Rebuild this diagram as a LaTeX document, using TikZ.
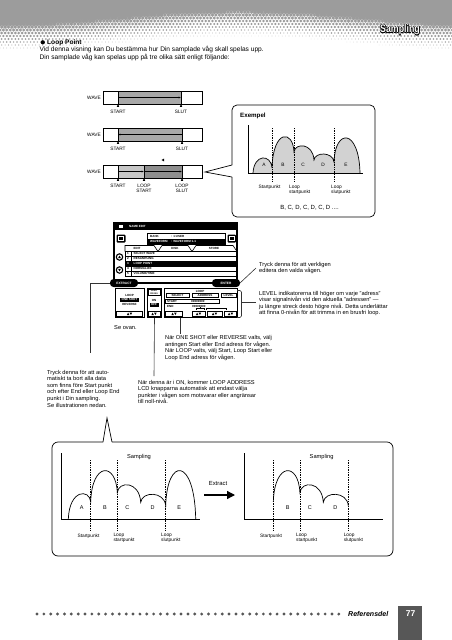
\documentclass[tikz,border=0pt]{standalone}
\usepackage{fontspec}
\setmainfont{Liberation Sans}
\usetikzlibrary{arrows.meta}

\definecolor{hdr}{HTML}{9C9C9C}
\definecolor{foot}{HTML}{575757}
\definecolor{wdark}{HTML}{A8A8A8}
\definecolor{wlight}{HTML}{C6C6C6}
\definecolor{wdeep}{HTML}{8E8E8E}
\definecolor{humpfill}{HTML}{D2D2D2}
\definecolor{conn}{HTML}{333333}

\newcommand\fsz[2]{\fontsize{#1}{#2}\selectfont}
\newcommand\updn[2]{%
  \fill (#1-2.6,#2+1.2) -- (#1-1.4,#2-1.1) -- (#1-0.2,#2+1.2) -- cycle;
  \fill (#1+0.2,#2-1.1) -- (#1+1.4,#2+1.2) -- (#1+2.6,#2-1.1) -- cycle;}
\newcommand\mkup[2]{\fill (#1-1.2,#2+2.8) -- (#1,#2) -- (#1+1.2,#2+2.8) -- cycle;}

\begin{document}
\begin{tikzpicture}[x=1pt,y=-1pt,
  body/.style={anchor=base west,inner sep=0pt,font=\fsz{6.6}{8}},
  ann/.style={anchor=north west,inner sep=0pt,align=left,font=\fsz{5.7}{6.6}},
  lbl/.style={inner sep=0pt,font=\fsz{4.8}{5.2}},
  lblc/.style={anchor=north,inner sep=0pt,align=center,font=\fsz{4.8}{5}},
  lblp/.style={anchor=north west,inner sep=0pt,align=left,font=\fsz{4.8}{5}},
  scr/.style={inner sep=0pt,font=\fsz{3}{3.4}\bfseries},
  conline/.style={draw=conn,line width=0.6},
  dotline/.style={line width=0.6,dash pattern=on 0.6pt off 1.1pt},
  wbox/.style={draw,line width=0.6},
  warr/.style={line width=0.6,-{Latex[length=2.4pt,width=2pt]}},
  oval/.style={draw,line width=1,fill=black,text=white,rounded corners=3.2,minimum width=27pt,minimum height=7pt,inner sep=0pt,font=\fsz{3.2}{3.4}\bfseries},
  panel/.style={draw,line width=1,anchor=north west,inner sep=0pt},
  ttl/.style={inner sep=0pt,font=\fsz{11}{12}\bfseries},
]
\useasboundingbox (0,0) rectangle (452,640);
\fill[white] (0,0) rectangle (452,640);

% ---------- header halftone ----------
\fill[hdr] (0,0) rectangle (452,8);
\foreach \i in {0,...,133}{
  \foreach \j in {0,...,16}{
    \pgfmathsetmacro\xx{\i*3.4+mod(\j,2)*1.7}
    \pgfmathsetmacro\yy{6+\j*3.0}
    \pgfmathsetmacro\ss{16+7*cos(\xx*0.75)}
    \pgfmathsetmacro\rr{min(2.2,2.2*(1-(\yy-\ss)/30))}
    \ifdim\rr pt>0.2pt \fill[hdr] (\xx,\yy) circle[radius=\rr pt];\fi
  }
}
\foreach \dx/\dy in {-0.5/0,0.5/0,0/-0.5,0/0.5,-0.4/-0.4,0.4/0.4,-0.4/0.4,0.4/-0.4}{
  \node[ttl,text=black] at (400+\dx,30+\dy) {\scalebox{0.8}[1]{Sampling}};
}
\node[ttl,text=white] (title) at (400,30) {\scalebox{0.8}[1]{Sampling}};

% ---------- intro text ----------
\fill (42.8,42.3) circle[radius=2.1pt];
\node[body,font=\fsz{6.6}{8}\bfseries] (lpoint) at (47,44.6) {Loop Point};
\node[body] (l1) at (39.5,51.9) {Vid denna visning kan Du bestämma hur Din samplade våg skall spelas upp.};
\node[body] (l2) at (39.5,59.2) {Din samplade våg kan spelas upp på tre olika sätt enligt följande:};

% ---------- wave 1 ----------
\node[lbl,anchor=east] (wv1) at (101,97.5) {WAVE};
\draw[wbox,fill=white] (103,91) rectangle (202,104);
\draw[wbox,fill=wdark] (118,91) rectangle (181,104);
\draw[warr] (118,97.5) -- (181,97.5);
\mkup{118}{104}\mkup{181}{104}
\node[lblc] (s1) at (118,110.3) {START};
\node[lblc] (e1) at (181,110.3) {SLUT};

% ---------- wave 2 ----------
\node[lbl,anchor=east] (wv2) at (101,134.5) {WAVE};
\draw[wbox,fill=white] (103,128) rectangle (202,141);
\draw[wbox,fill=wdark] (118,128) rectangle (182,141);
\draw[warr] (182,134.5) -- (118,134.5);
\mkup{118}{141}\mkup{182}{141}
\node[lblc] (s2) at (118,147.3) {START};
\node[lblc] (e2) at (182,147.3) {SLUT};

\fill (161.5,160) -- (164,158.6) -- (164,161.4) -- cycle;

% ---------- wave 3 ----------
\node[lbl,anchor=east] (wv3) at (101,171.5) {WAVE};
\draw[wbox,fill=white] (103,165) rectangle (202,178);
\draw[wbox,fill=wlight] (118,165) rectangle (144,178);
\draw[wbox,fill=wdeep] (144,165) rectangle (182,178);
\draw[warr] (118,171.5) -- (144,171.5);
\draw[warr] (144,171.5) -- (182,171.5);
\mkup{118}{178}\mkup{144}{178}\mkup{182}{178}
\node[lblc] (s3) at (118,184.3) {START};
\node[lblc] (ls3) at (144,184.3) {LOOP\\START};
\node[lblc] (le3) at (182,184.3) {LOOP\\SLUT};

% ---------- example callout ----------
\draw[line width=0.7,rounded corners=5] (232,177) -- (232,217) -- (375,217) -- (375,105) -- (232,105) -- (232,165);
\draw[line width=0.7] (232,165) -- (205,172) -- (232,177);
\node[anchor=base west,inner sep=0pt,font=\fsz{6.2}{7}\bfseries] (ex) at (240,117) {Exempel};

\fill[humpfill] (253,173) .. controls (254,153.8) and (271,153.8) .. (272,168)
  .. controls (273,129.3) and (293,129.3) .. (294,152)
  .. controls (295,142.7) and (313,142.7) .. (314,160)
  .. controls (315,151.7) and (333,151.7) .. (334,162)
  .. controls (335,128.2) and (359,128.2) .. (360,173) -- cycle;
\draw[line width=0.7] (253,173) .. controls (254,153.8) and (271,153.8) .. (272,168)
  .. controls (273,129.3) and (293,129.3) .. (294,152)
  .. controls (295,142.7) and (313,142.7) .. (314,160)
  .. controls (315,151.7) and (333,151.7) .. (334,162)
  .. controls (335,128.2) and (359,128.2) .. (360,173);
\draw[line width=0.7] (248,125) -- (248,173) -- (363,173);
\draw[dotline] (272,128) -- (272,182);
\draw[dotline] (294,128) -- (294,182);
\draw[dotline] (334,128) -- (334,182);
\foreach \lt/\lx in {A/264,B/283,C/303,D/323,E/346}{
  \node[lbl] (ex\lt) at (\lx,165) {\lt};
}
\node[lblc] (exs) at (269.5,184.5) {Startpunkt};
\node[lblp] (exl) at (289,184.5) {Loop\\startpunkt};
\node[lblp] (exe) at (331,184.5) {Loop\\slutpunkt};
\node[anchor=base,inner sep=0pt,font=\fsz{6}{7}] (seq) at (309.5,209) {B, C, D, C, D, C, D ....};

% ---------- LCD screen ----------
\fill (114,223) rectangle (237,230);
\fill[white] (119,225) rectangle (123,228);
\node[scr,anchor=west,text=white] (ttlbar) at (129,226.5) {NAME EDIT};
\draw[line width=1.3] (114,223) rectangle (237,283);
\fill[rounded corners=1] (116.5,234.5) rectangle (125.5,242.5);
\draw[white,line width=0.5] (118.5,236.5) rectangle (123.5,240.5);
\fill[rounded corners=1] (227.5,234.5) rectangle (236,242.5);
\draw[white,line width=0.5] (229.5,236.5) rectangle (234,240.5);
\draw[line width=0.6] (147,233.5) rectangle (225,244);
\node[scr,anchor=west] (nb1) at (150,236.3) {BANK};
\node[scr,anchor=west] (nb2) at (171,236.3) {: 1:USER};
\fill (147.5,239) rectangle (224.5,243.5);
\node[scr,anchor=west,text=white] (nb3) at (150,241.3) {WAVEFORM};
\node[scr,anchor=west,text=white] (nb4) at (171,241.3) {: WAVEFORM 1-1};
% tabs
\draw[line width=0.6] (125,251.5) -- (125,245.5) -- (154,245.5) -- (158,251.5);
\draw[line width=0.6] (158,251.5) -- (162,245.5) -- (188,245.5) -- (192,251.5);
\draw[line width=0.6] (192,251.5) -- (196,245.5) -- (233,245.5) -- (237,251.5);
\node[scr] (tb1) at (137,248.6) {EDIT};
\node[scr] (tb2) at (175,248.6) {DISK};
\node[scr] (tb3) at (214,248.6) {STORE};
% list
\draw[line width=0.8] (125,251.5) rectangle (237,276);
\foreach \nm [count=\k] in {SELECT WAVE,RESAMPLING,LOOP POINT,NORMALIZE,VOLUME/TIME}{
  \pgfmathsetmacro\yt{251.5+(\k-1)*4.9}
  \ifnum\k=3 \fill (125,\yt) rectangle (237,\yt+4.9);\def\tc{white}\else\def\tc{black}\fi
  \draw[line width=0.4] (125,\yt+4.9) -- (237,\yt+4.9);
  \node[scr,text=\tc] (li\k) at (128,\yt+2.45) {\k};
  \node[scr,text=\tc,anchor=west] (lt\k) at (133.5,\yt+2.45) {\nm};
}
\draw[line width=0.4] (131,251.5) -- (131,276);
\draw[line width=1.1,fill=white] (119.5,257) circle[radius=3.2pt];
\fill (118,258.2) -- (119.5,255.6) -- (121,258.2) -- cycle;
\draw[line width=1.1,fill=white] (119.5,270) circle[radius=3.2pt];
\fill (118,268.8) -- (119.5,271.4) -- (121,268.8) -- cycle;
% ovals
\node[oval] (extract) at (124,283) {EXTRACT};
\node[oval] (enter) at (226,283) {ENTER};
% lower panels
\node[panel,minimum width=29pt,minimum height=29pt] (lpan) at (115,288) {};
\node[scr] (lp1) at (129.5,295) {LOOP};
\fill (120,297.8) rectangle (139,301.8);
\node[scr,text=white] (lp2) at (129.5,299.8) {ONE SHOT};
\node[scr] (lp3) at (129.5,304.2) {REVERSE};
\draw[line width=0.6] (116.5,311.5) rectangle (142.5,316);
\updn{129.5}{313.8}
\node[panel,minimum width=14pt,minimum height=29pt] (mpan) at (147,288) {};
\draw[line width=0.5] (148,289.2) rectangle (160,295.5);
\node[scr,font=\fsz{2.2}{2.4}\bfseries,align=center] (mp1) at (154,292.3) {ZERO\\CROSS};
\node[scr] (mp2) at (154,300) {ON};
\fill (149.5,302.5) rectangle (158.5,306.5);
\node[scr,text=white] (mp3) at (154,304.5) {OFF};
\draw[line width=0.6] (148,311.5) rectangle (160,316);
\updn{154}{313.8}
\node[panel,minimum width=73pt,minimum height=29pt] (rpan) at (164,288) {};
\node[scr] (rp0) at (200,291) {LOOP};
\draw[line width=0.5] (166,293.5) rectangle (189,297.5);
\draw[line width=0.5] (192,293.5) rectangle (218,297.5);
\draw[line width=0.5] (221,293.5) rectangle (236,297.5);
\node[scr] (rp1) at (177.5,295.5) {SELECT};
\node[scr] (rp2) at (205,295.5) {ADDRESS};
\node[scr] (rp3) at (228.5,295.5) {LEVEL};
\draw[line width=0.5] (165.5,299.5) rectangle (219,303.5);
\node[scr,anchor=west] (rp4) at (167,301.5) {START};
\node[scr,anchor=west] (rp5) at (191,301.5) {00000000};
\node[scr,anchor=west] (rp6) at (167,306.3) {END};
\node[scr,anchor=west] (rp7) at (192,306.3) {00000000};
\draw[line width=0.4] (196,309.5) -- (196,308.2) -- (204,308.2) -- (204,309.5);
\draw[line width=0.4] (206,309.5) -- (206,308.2) -- (226,308.2) -- (226,309.5);
\draw[line width=0.4] (200,308.2) -- (200,307.4);
\foreach \bx/\bw in {165.5/17,192/13,207/15,224.5/12}{
  \draw[line width=0.6] (\bx,311.5) rectangle (\bx+\bw,316);
  \updn{\bx+\bw/2}{313.8}
}

% ---------- annotations ----------
\node[ann] (penter) at (259,261.8) {Tryck denna för att verkligen\\editera den valda vågen.};
\draw[conline] (enter.east) -- (256,268);
\node[ann] (plevel) at (259,290.8) {LEVEL indikatorerna till höger om varje "adress"\\visar signalnivån vid den aktuella "adressen" —\\ju längre streck desto högre nivå. Detta underlättar\\att finna 0-nivån för att trimma in en brusfri loop.};
\draw[conline,rounded corners=1.5] (237,290.5) -- (241.5,290.5) -- (241.5,317.5) -- (237,317.5);
\draw[conline] (241.5,302) -- (256,302);
\node[anchor=base west,inner sep=0pt,font=\fsz{5.7}{6.6}] (seovan) at (114,329.5) {Se ovan.};
\node[ann] (poneshot) at (165,335.3) {När ONE SHOT eller REVERSE valts, välj\\antingen Start eller End adress för vågen.\\När LOOP valts, välj Start, Loop Start eller\\Loop End adress för vågen.};
\coordinate (oc) at (180,334);
\draw[conline] (oc |- rpan.south) -- (oc);
\node[ann] (pextract) at (47,369.8) {Tryck denna för att auto-\\matiskt ta bort alla data\\som finns före Start punkt\\och efter End eller Loop End\\punkt i Din sampling.\\Se illustrationen nedan.};
\draw[conline] (extract.west) -- (90,283) -- (90,353);
\node[ann] (pzero) at (138,379.8) {När denna är i ON, kommer LOOP ADDRESS\\LCD knapparna automatisk att endast välja\\punkter i vågen som motsvarar eller angränsar\\till noll-nivå.};
\draw[conline] (mpan.south) -- (154,376);

% ---------- bottom box ----------
\draw[line width=0.7,rounded corners=6] (112,442) -- (393,442) -- (393,556) -- (52,556) -- (52,442) -- (103,442);
\draw[line width=0.7] (103,442) -- (107,418) -- (112,442);

% left graph
\draw[line width=0.7] (61.7,453) -- (61.7,519) -- (200,519);
\draw[line width=0.7] (68.3,519) .. controls (69.5,489) and (89.5,489) .. (90.7,501.7)
  .. controls (92,461.9) and (116,461.9) .. (117.3,492.7)
  .. controls (118.5,480.8) and (139.5,480.8) .. (140.7,502.3)
  .. controls (142,491.1) and (164.5,491.1) .. (165.7,505.7)
  .. controls (167,456.8) and (194.5,456.8) .. (195.7,519);
\foreach \dx in {90.7,117.3,165.7}{\draw[dotline] (\dx,460) -- (\dx,530);}
\foreach \lt/\lx in {A/81.7,B/105,C/127.3,D/152.7,E/179.3}{
  \node[inner sep=0pt,font=\fsz{5.5}{6}] (bl\lt) at (\lx,507.7) {\lt};
}
\node[inner sep=0pt,font=\fsz{5.7}{6}] (samp1) at (139,456.7) {Sampling};
\node[lblc] (bs1) at (88.5,533.5) {Startpunkt};
\node[lblp] (bls1) at (113.3,533) {Loop\\startpunkt};
\node[lblp] (ble1) at (161,533) {Loop\\slutpunkt};

% extract arrow
\node[inner sep=0pt,font=\fsz{5.9}{6.5}] (extxt) at (218,483) {Extract};
\draw[line width=1.3,-{Triangle[length=8pt,width=8pt]}] (204,495) -- (235,495);

% right graph
\begin{scope}[xshift=182.6pt]
\draw[line width=0.7] (61.7,453) -- (61.7,519) -- (200,519);
\draw[line width=0.7] (90.7,501.7)
  .. controls (92,461.9) and (116,461.9) .. (117.3,492.7)
  .. controls (118.5,480.8) and (139.5,480.8) .. (140.7,502.3)
  .. controls (142,491.1) and (164.5,491.1) .. (165.7,505.7);
\foreach \dx in {90.7,117.3,165.7}{\draw[dotline] (\dx,460) -- (\dx,530);}
\foreach \lt/\lx in {B/105,C/127.3,D/152.7}{
  \node[inner sep=0pt,font=\fsz{5.5}{6}] (br\lt) at (\lx,507.7) {\lt};
}
\node[inner sep=0pt,font=\fsz{5.7}{6}] (samp2) at (139,456.7) {Sampling};
\node[lblc] (bs2) at (88.5,533.5) {Startpunkt};
\node[lblp] (bls2) at (113.3,533) {Loop\\startpunkt};
\node[lblp] (ble2) at (161,533) {Loop\\slutpunkt};
\end{scope}

% ---------- footer ----------
\foreach \k in {0,...,44}{\fill[foot] (37+\k*6.86,614) circle[radius=1.6pt];}
\node[anchor=west,inner sep=0pt,font=\fsz{7}{8}\bfseries\itshape] (refdel) at (348,614) {Referensdel};
\fill[foot] (398,606) rectangle (422,640);
\node[inner sep=0pt,font=\fsz{8.5}{9}\bfseries,text=white] (pgno) at (410.5,613.5) {77};
\end{tikzpicture}
\end{document}
